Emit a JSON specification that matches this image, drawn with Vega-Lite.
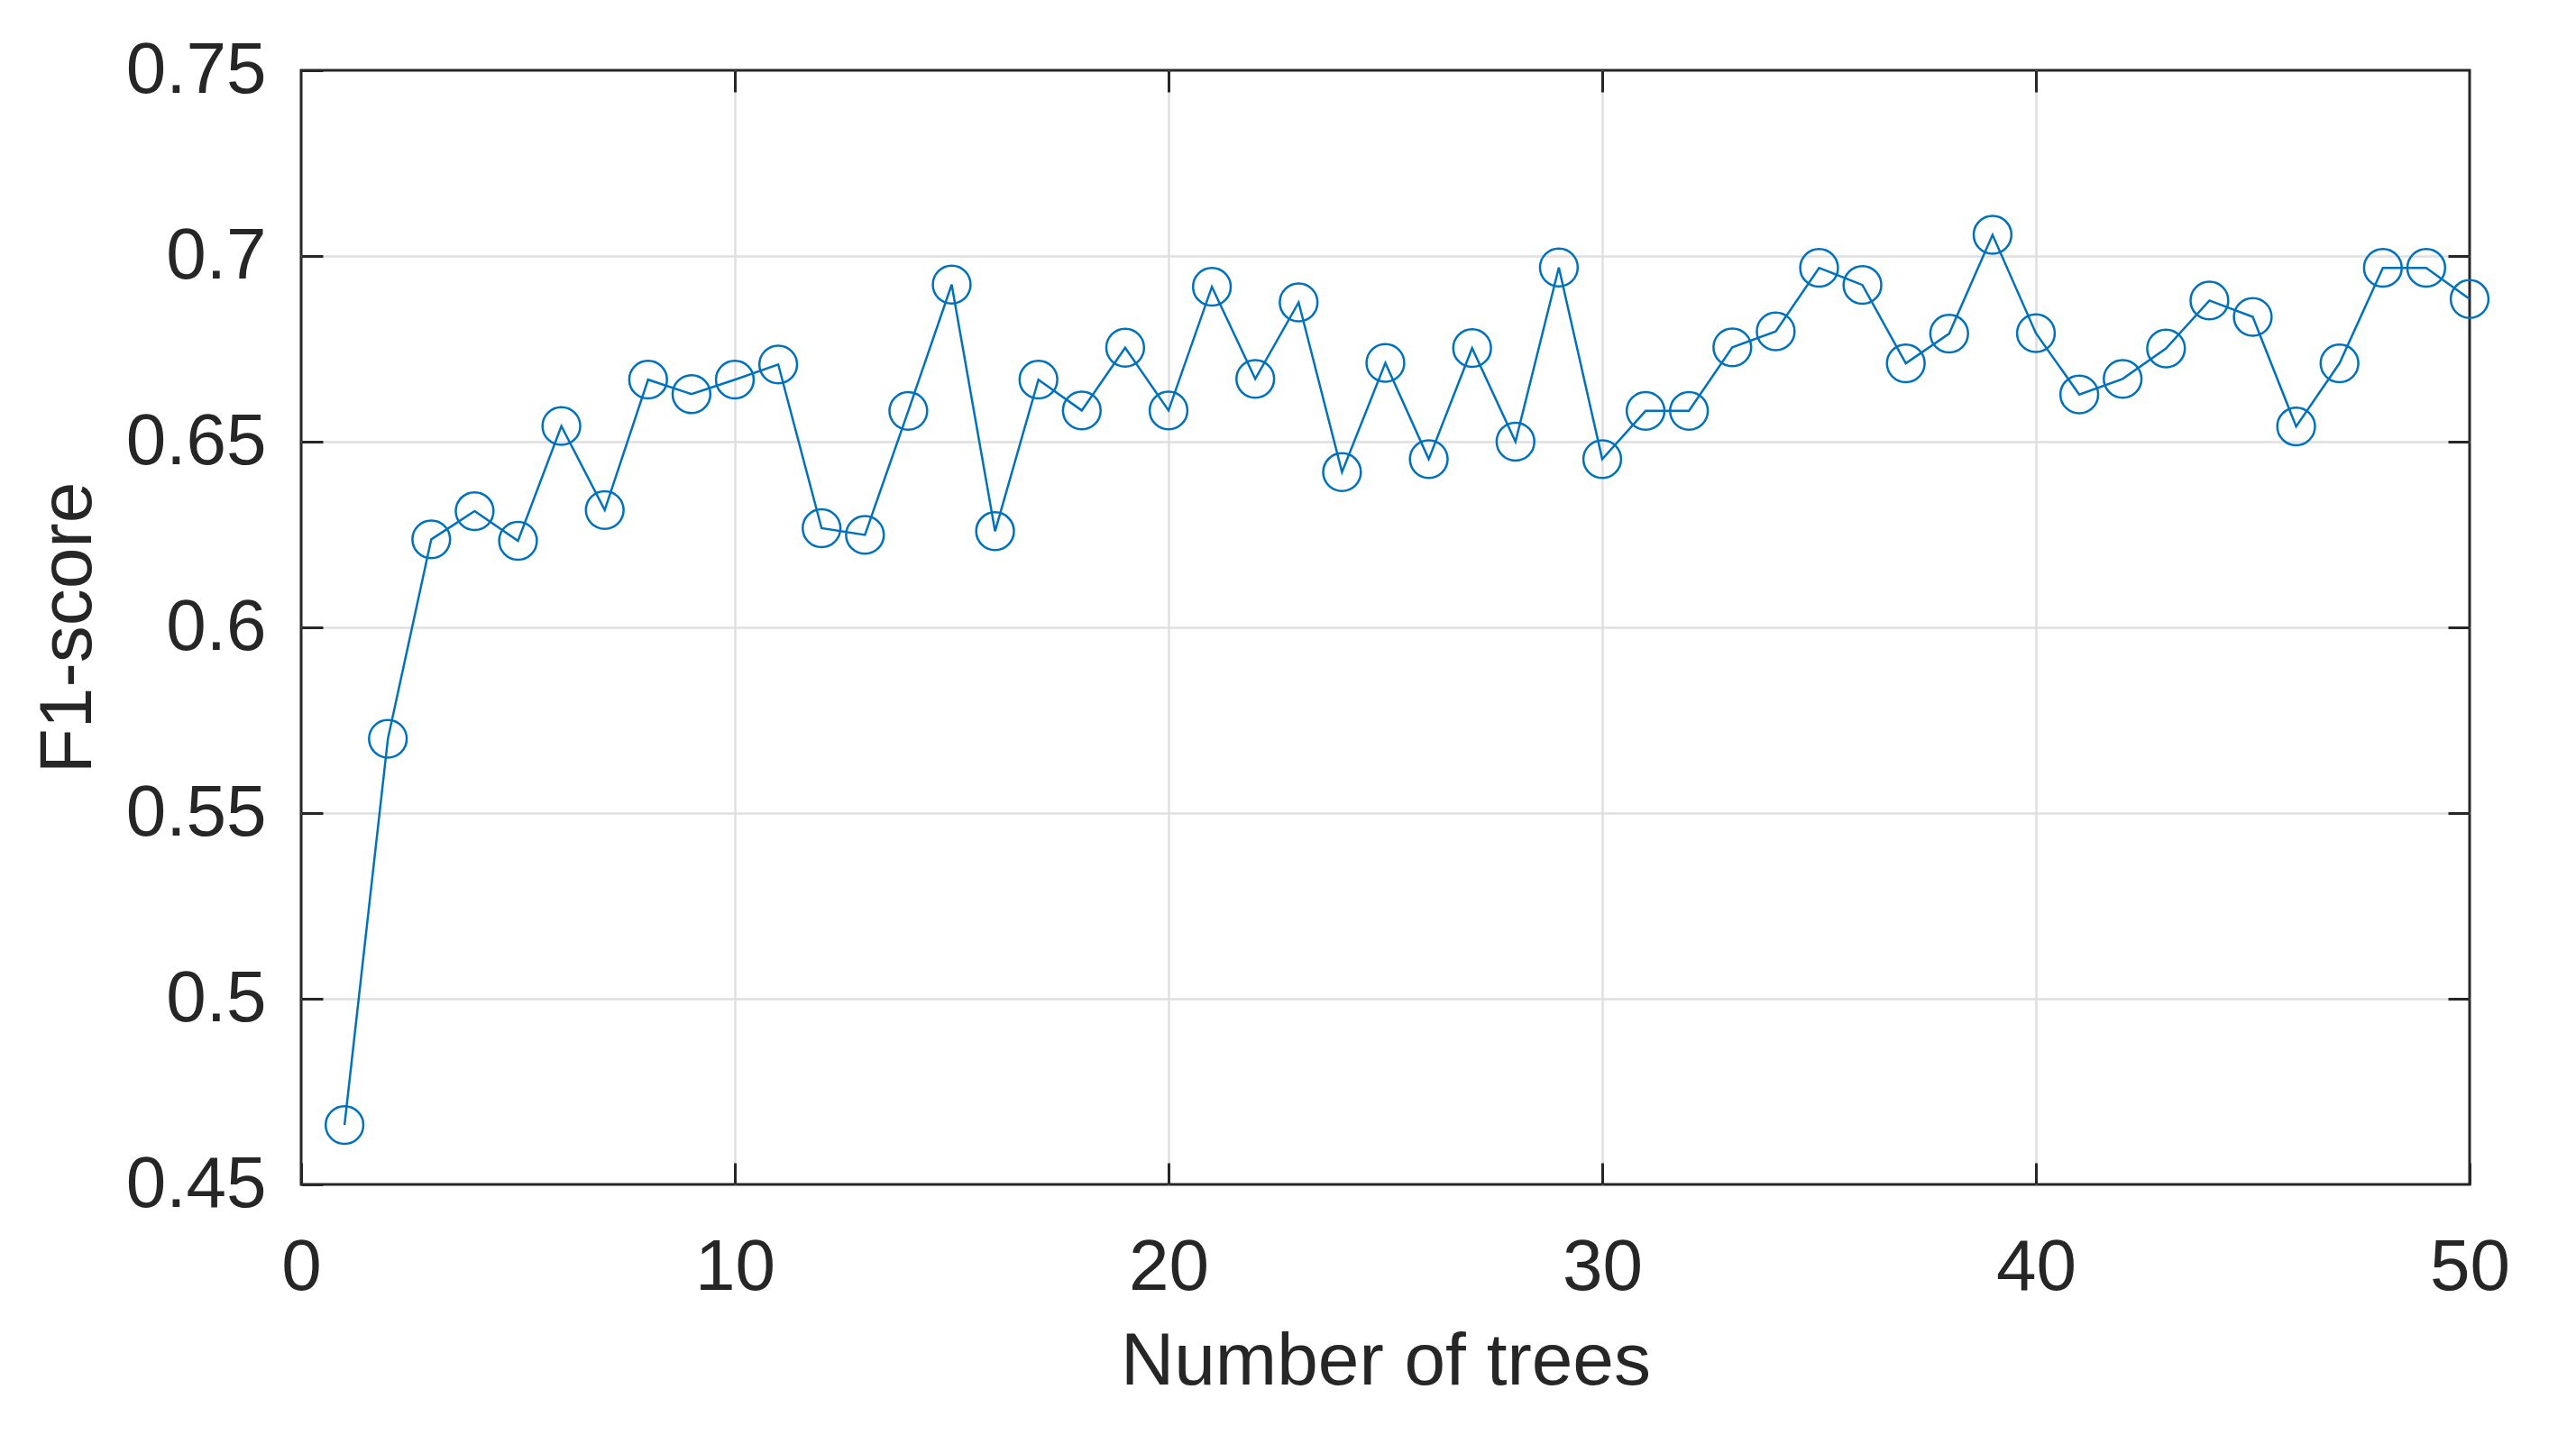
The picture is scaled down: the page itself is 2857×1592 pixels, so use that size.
{
  "$schema": "https://vega.github.io/schema/vega-lite/v6.json",
  "width": 2405,
  "height": 1236,
  "autosize": {"type": "none"},
  "padding": {"left": 334, "top": 78, "right": 118, "bottom": 278},
  "background": "white",
  "config": {
    "view": {"stroke": "#262626", "strokeWidth": 3},
    "font": "Liberation Sans"
  },
  "data": {
    "values": [
      {"trees": 1, "f1": 0.466},
      {"trees": 2, "f1": 0.570},
      {"trees": 3, "f1": 0.6237},
      {"trees": 4, "f1": 0.6313},
      {"trees": 5, "f1": 0.6233},
      {"trees": 6, "f1": 0.6542},
      {"trees": 7, "f1": 0.6316},
      {"trees": 8, "f1": 0.6667},
      {"trees": 9, "f1": 0.6628},
      {"trees": 10, "f1": 0.6667},
      {"trees": 11, "f1": 0.6708},
      {"trees": 12, "f1": 0.6267},
      {"trees": 13, "f1": 0.6249},
      {"trees": 14, "f1": 0.6583},
      {"trees": 15, "f1": 0.6923},
      {"trees": 16, "f1": 0.6259},
      {"trees": 17, "f1": 0.6667},
      {"trees": 18, "f1": 0.6584},
      {"trees": 19, "f1": 0.6753},
      {"trees": 20, "f1": 0.6584},
      {"trees": 21, "f1": 0.6917},
      {"trees": 22, "f1": 0.6669},
      {"trees": 23, "f1": 0.6875},
      {"trees": 24, "f1": 0.6418},
      {"trees": 25, "f1": 0.6712},
      {"trees": 26, "f1": 0.6453},
      {"trees": 27, "f1": 0.6752},
      {"trees": 28, "f1": 0.65},
      {"trees": 29, "f1": 0.6969},
      {"trees": 30, "f1": 0.6453},
      {"trees": 31, "f1": 0.6583},
      {"trees": 32, "f1": 0.6583},
      {"trees": 33, "f1": 0.6754},
      {"trees": 34, "f1": 0.6797},
      {"trees": 35, "f1": 0.6968},
      {"trees": 36, "f1": 0.6922},
      {"trees": 37, "f1": 0.6711},
      {"trees": 38, "f1": 0.6791},
      {"trees": 39, "f1": 0.7057},
      {"trees": 40, "f1": 0.6792},
      {"trees": 41, "f1": 0.6627},
      {"trees": 42, "f1": 0.6669},
      {"trees": 43, "f1": 0.6751},
      {"trees": 44, "f1": 0.688},
      {"trees": 45, "f1": 0.6836},
      {"trees": 46, "f1": 0.6541},
      {"trees": 47, "f1": 0.6711},
      {"trees": 48, "f1": 0.6968},
      {"trees": 49, "f1": 0.6968},
      {"trees": 50, "f1": 0.6884}
    ]
  },
  "resolve": {"axis": {"x": "independent", "y": "independent"}},
  "layer": [
    {
      "mark": {"type": "line", "color": "#0072BD", "strokeWidth": 2.5},
      "encoding": {
        "x": {
          "field": "trees", "type": "quantitative",
          "scale": {"domain": [0, 50], "nice": false, "zero": false},
          "axis": {
            "orient": "bottom",
            "values": [0, 10, 20, 30, 40, 50],
            "domain": false,
            "grid": false,
            "ticks": true, "tickSize": -24, "tickWidth": 3, "tickColor": "#262626",
            "labelFontSize": 80, "labelColor": "#262626", "labelPadding": 77,
            "labelFlush": false,
            "title": "Number of trees", "titleFontSize": 82, "titleFontWeight": "normal",
            "titleColor": "#262626", "titlePadding": 24
          }
        },
        "y": {
          "field": "f1", "type": "quantitative",
          "scale": {"domain": [0.45, 0.75], "nice": false, "zero": false},
          "axis": {
            "orient": "left",
            "values": [0.45, 0.5, 0.55, 0.6, 0.65, 0.7, 0.75],
            "format": "~g",
            "domain": false,
            "grid": false,
            "ticks": true, "tickSize": -24, "tickWidth": 3, "tickColor": "#262626",
            "labelFontSize": 80, "labelColor": "#262626", "labelPadding": 63,
            "labelFlush": false,
            "title": "F1-score", "titleFontSize": 82, "titleFontWeight": "normal",
            "titleColor": "#262626", "titlePadding": 22
          }
        }
      }
    },
    {
      "mark": {"type": "point", "shape": "circle", "filled": false, "color": "#0072BD", "size": 1750, "strokeWidth": 2.5, "opacity": 1},
      "encoding": {
        "x": {
          "field": "trees", "type": "quantitative",
          "scale": {"domain": [0, 50], "nice": false, "zero": false},
          "axis": {
            "orient": "top", "values": [10, 20, 30, 40],
            "domain": false, "labels": false, "title": null,
            "grid": true, "gridColor": "#dfdfdf", "gridWidth": 2.5,
            "ticks": true, "tickSize": -24, "tickWidth": 3, "tickColor": "#262626"
          }
        },
        "y": {
          "field": "f1", "type": "quantitative",
          "scale": {"domain": [0.45, 0.75], "nice": false, "zero": false},
          "axis": {
            "orient": "right", "values": [0.5, 0.55, 0.6, 0.65, 0.7],
            "domain": false, "labels": false, "title": null,
            "grid": true, "gridColor": "#dfdfdf", "gridWidth": 2.5,
            "ticks": true, "tickSize": -24, "tickWidth": 3, "tickColor": "#262626"
          }
        }
      }
    }
  ]
}
